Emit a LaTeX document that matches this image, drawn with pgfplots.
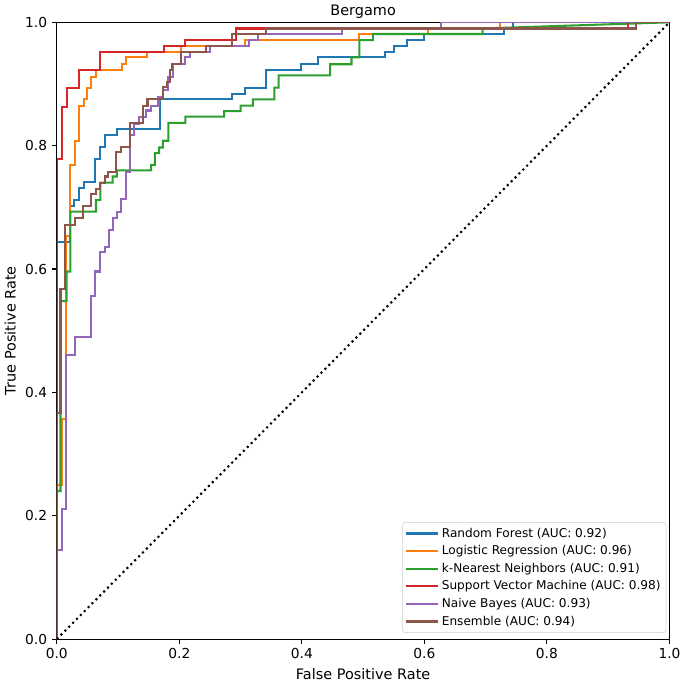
\documentclass[border=0pt]{standalone}
\usepackage{fontspec}
\setmainfont{DejaVu Sans}
\usepackage{pgfplots}
\pgfplotsset{compat=1.18}

\definecolor{c0}{HTML}{1F77B4}
\definecolor{c1}{HTML}{FF7F0E}
\definecolor{c2}{HTML}{2CA02C}
\definecolor{c3}{HTML}{D62728}
\definecolor{c4}{HTML}{9467BD}
\definecolor{c5}{HTML}{8C564B}

\begin{document}
\begin{tikzpicture}
\begin{axis}[
    scale only axis,
    width=445pt, height=448pt,
    xmin=0, xmax=1, ymin=0, ymax=1,
    xtick={0,0.2,0.4,0.6,0.8,1},
    ytick={0,0.2,0.4,0.6,0.8,1},
    tick align=outside,
    tick pos=left,
    major tick length=3.5pt,
    every tick/.style={black, line width=0.8pt},
    axis line style={line width=0.8pt},
    /pgf/number format/assume math mode=true,
    ticklabel style={font=\fontsize{10}{12}\selectfont,
        /pgf/number format/.cd, fixed, fixed zerofill, precision=1},
    xlabel={False Positive Rate},
    ylabel={True Positive Rate},
    label style={font=\fontsize{10.5}{12}\selectfont},
    title={Bergamo},
    title style={font=\fontsize{10.5}{12}\selectfont, yshift=-6.5pt},
    legend cell align=left,
    legend style={at={(0.995,0.01)}, anchor=south east,
        font=\fontsize{8.8}{10.5}\selectfont,
        draw=black!20, rounded corners=2pt, fill=white,
        inner xsep=2pt, inner ysep=2pt, row sep=0.6pt},
    legend image code/.code={\draw[#1] (0pt,0pt) -- (20pt,0pt);
        \path (0pt,0pt) -- (23pt,0pt);},
    every axis plot/.append style={line width=1.5pt, line join=miter},
]
\addplot[c0] coordinates {
(0,0)(0,0.644)(0.022,0.644)(0.022,0.702)(0.028,0.702)(0.028,0.712)(0.036,0.712)
(0.036,0.731)(0.044,0.731)(0.044,0.741)(0.063,0.741)(0.063,0.779)(0.070,0.779)
(0.070,0.798)(0.078,0.798)(0.078,0.817)(0.099,0.817)(0.099,0.827)(0.168,0.827)
(0.168,0.875)(0.286,0.875)(0.286,0.884)(0.307,0.884)(0.307,0.894)(0.342,0.894)
(0.342,0.923)(0.398,0.923)(0.398,0.932)(0.426,0.932)(0.426,0.943)(0.536,0.943)
(0.536,0.952)(0.551,0.952)(0.551,0.961)(0.571,0.961)(0.571,0.971)(0.599,0.971)
(0.599,0.981)(0.730,0.981)(0.730,0.990)(0.744,0.990)(0.744,1)(1,1)
};
\addlegendentry{Random Forest (AUC: 0.92)}
\addplot[c1] coordinates {
(0,0)(0,0.25)(0.008,0.25)(0.008,0.357)(0.015,0.357)(0.015,0.654)(0.022,0.654)
(0.022,0.769)(0.029,0.769)(0.029,0.808)(0.036,0.808)(0.036,0.865)(0.044,0.865)
(0.044,0.875)(0.050,0.875)(0.050,0.894)(0.056,0.894)(0.056,0.911)(0.064,0.911)
(0.064,0.923)(0.106,0.923)(0.106,0.932)(0.113,0.932)(0.113,0.943)(0.147,0.943)
(0.147,0.952)(0.202,0.952)(0.202,0.961)(0.307,0.961)(0.307,0.971)(0.494,0.971)
(0.494,0.981)(0.606,0.981)(0.606,0.990)(0.723,0.990)(0.723,1)(1,1)
};
\addlegendentry{Logistic Regression (AUC: 0.96)}
\addplot[c2] coordinates {
(0,0)(0,0.24)(0.006,0.24)(0.006,0.548)(0.016,0.548)(0.016,0.596)(0.022,0.596)
(0.022,0.693)(0.064,0.693)(0.064,0.712)(0.071,0.712)(0.071,0.740)(0.091,0.740)
(0.091,0.750)(0.098,0.750)(0.098,0.760)(0.154,0.760)(0.154,0.769)(0.160,0.769)
(0.160,0.788)(0.167,0.788)(0.167,0.797)(0.173,0.797)(0.173,0.808)(0.182,0.808)
(0.182,0.837)(0.210,0.837)(0.210,0.847)(0.273,0.847)(0.273,0.856)(0.300,0.856)
(0.300,0.865)(0.320,0.865)(0.320,0.875)(0.355,0.875)(0.355,0.894)(0.362,0.894)
(0.362,0.914)(0.446,0.914)(0.446,0.932)(0.481,0.932)(0.481,0.943)(0.494,0.943)
(0.494,0.971)(0.516,0.971)(0.516,0.981)(0.695,0.981)(0.695,0.990)(1,1)
};
\addlegendentry{k-Nearest Neighbors (AUC: 0.91)}
\addplot[c3] coordinates {
(0,0)(0,0.779)(0.008,0.779)(0.008,0.863)(0.016,0.863)(0.016,0.894)(0.036,0.894)
(0.036,0.923)(0.071,0.923)(0.071,0.952)(0.175,0.952)(0.175,0.961)(0.210,0.961)
(0.210,0.971)(0.292,0.971)(0.292,0.990)(0.933,0.990)(0.933,1)(1,1)
};
\addlegendentry{Support Vector Machine (AUC: 0.98)}
\addplot[c4] coordinates {
(0,0)(0,0.145)(0.009,0.145)(0.009,0.211)(0.015,0.211)(0.015,0.461)(0.029,0.461)
(0.029,0.490)(0.056,0.490)(0.056,0.557)(0.063,0.557)(0.063,0.596)(0.071,0.596)
(0.071,0.627)(0.078,0.627)(0.078,0.635)(0.085,0.635)(0.085,0.663)(0.091,0.663)
(0.091,0.683)(0.099,0.683)(0.099,0.693)(0.105,0.693)(0.105,0.713)(0.113,0.713)
(0.113,0.758)(0.119,0.758)(0.119,0.817)(0.126,0.817)(0.126,0.835)(0.134,0.835)
(0.134,0.847)(0.145,0.847)(0.145,0.857)(0.153,0.857)(0.153,0.865)(0.166,0.865)
(0.166,0.879)(0.174,0.879)(0.174,0.891)(0.182,0.891)(0.182,0.912)(0.190,0.912)
(0.190,0.932)(0.210,0.932)(0.210,0.943)(0.218,0.943)(0.218,0.952)(0.250,0.952)
(0.250,0.961)(0.313,0.961)(0.313,0.971)(0.328,0.971)(0.328,0.981)(0.466,0.981)
(0.466,0.990)(0.627,0.990)(0.627,1)(1,1)
};
\addlegendentry{Naive Bayes (AUC: 0.93)}
\addplot[c5] coordinates {
(0,0)(0,0.366)(0.006,0.366)(0.006,0.567)(0.014,0.567)(0.014,0.672)(0.029,0.672)
(0.029,0.682)(0.043,0.682)(0.043,0.702)(0.056,0.702)(0.056,0.721)(0.064,0.721)
(0.064,0.730)(0.070,0.730)(0.070,0.740)(0.078,0.740)(0.078,0.750)(0.083,0.750)
(0.083,0.758)(0.097,0.758)(0.097,0.789)(0.105,0.789)(0.105,0.798)(0.120,0.798)
(0.120,0.837)(0.141,0.837)(0.141,0.865)(0.148,0.865)(0.148,0.875)(0.173,0.875)
(0.173,0.895)(0.180,0.895)(0.180,0.903)(0.184,0.903)(0.184,0.923)(0.188,0.923)
(0.188,0.932)(0.202,0.932)(0.202,0.952)(0.244,0.952)(0.244,0.961)(0.286,0.961)
(0.286,0.981)(0.342,0.981)(0.342,0.990)(0.946,0.990)(0.946,1)(1,1)
};
\addlegendentry{Ensemble (AUC: 0.94)}
\addplot[black, line width=1.5pt, dash pattern=on 1.5pt off 2.5pt, forget plot]
    coordinates {(0,0)(1,1)};
\end{axis}
\end{tikzpicture}
\end{document}
